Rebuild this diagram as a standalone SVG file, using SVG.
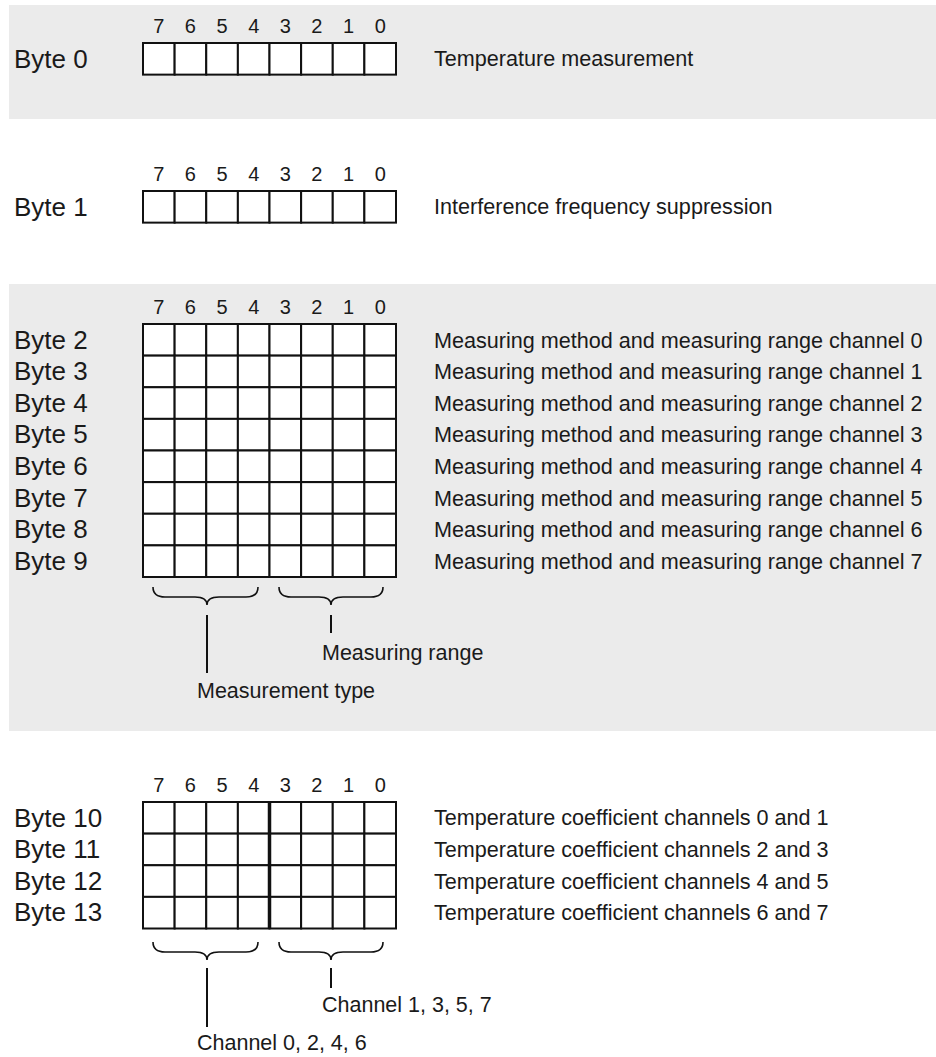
<svg xmlns="http://www.w3.org/2000/svg" width="936" height="1057" viewBox="0 0 936 1057">
<style>
.bg{fill:#ebebeb}
.cell{fill:#ffffff;stroke:#111;stroke-width:2}
.lbl{font-family:"Liberation Sans",Arial,sans-serif;font-size:26px;fill:#1a1a1a}
.txt{font-family:"Liberation Sans",Arial,sans-serif;font-size:21.6px;fill:#1a1a1a}
.bl{font-family:"Liberation Sans",Arial,sans-serif;font-size:21.5px;fill:#1a1a1a}
.bit{font-family:"Liberation Sans",Arial,sans-serif;font-size:20px;fill:#1a1a1a;text-anchor:middle}
.brace{fill:none;stroke:#111;stroke-width:1.6}
.lead{stroke:#111;stroke-width:2}
.thick{stroke:#111;stroke-width:3.5}
</style>
<defs>
<g id="row">
<rect class="cell" x="143" y="0" width="31.625" height="31.625"/>
<rect class="cell" x="174.625" y="0" width="31.625" height="31.625"/>
<rect class="cell" x="206.25" y="0" width="31.625" height="31.625"/>
<rect class="cell" x="237.875" y="0" width="31.625" height="31.625"/>
<rect class="cell" x="269.5" y="0" width="31.625" height="31.625"/>
<rect class="cell" x="301.125" y="0" width="31.625" height="31.625"/>
<rect class="cell" x="332.75" y="0" width="31.625" height="31.625"/>
<rect class="cell" x="364.375" y="0" width="31.625" height="31.625"/>
</g>
<g id="bits">
<text class="bit" x="158.8">7</text>
<text class="bit" x="190.4">6</text>
<text class="bit" x="222.1">5</text>
<text class="bit" x="253.7">4</text>
<text class="bit" x="285.3">3</text>
<text class="bit" x="316.9">2</text>
<text class="bit" x="348.6">1</text>
<text class="bit" x="380.2">0</text>
</g>
</defs>

<g id="backgrounds">
<rect class="bg" x="9" y="5" width="927" height="114"/>
<rect class="bg" x="9" y="284" width="927" height="447"/>
</g>

<g id="byte0">
<use href="#bits" y="32.5"/>
<use href="#row" y="43"/>
<text class="lbl" x="14" y="67.5">Byte 0</text>
<text class="txt" x="434" y="66">Temperature measurement</text>
</g>

<g id="byte1">
<use href="#bits" y="180.5"/>
<use href="#row" y="191"/>
<text class="lbl" x="14" y="215.5">Byte 1</text>
<text class="txt" x="434" y="214">Interference frequency suppression</text>
</g>

<g id="bytes2to9">
<use href="#bits" y="313.5"/>
<use href="#row" y="324"/>
<use href="#row" y="355.625"/>
<use href="#row" y="387.25"/>
<use href="#row" y="418.875"/>
<use href="#row" y="450.5"/>
<use href="#row" y="482.125"/>
<use href="#row" y="513.75"/>
<use href="#row" y="545.375"/>
<text class="lbl" x="14" y="348.5">Byte 2</text>
<text class="lbl" x="14" y="380.1">Byte 3</text>
<text class="lbl" x="14" y="411.7">Byte 4</text>
<text class="lbl" x="14" y="443.4">Byte 5</text>
<text class="lbl" x="14" y="475">Byte 6</text>
<text class="lbl" x="14" y="506.6">Byte 7</text>
<text class="lbl" x="14" y="538.3">Byte 8</text>
<text class="lbl" x="14" y="569.9">Byte 9</text>
<text class="txt" x="434" y="347.5">Measuring method and measuring range channel 0</text>
<text class="txt" x="434" y="379.1">Measuring method and measuring range channel 1</text>
<text class="txt" x="434" y="410.7">Measuring method and measuring range channel 2</text>
<text class="txt" x="434" y="442.4">Measuring method and measuring range channel 3</text>
<text class="txt" x="434" y="474">Measuring method and measuring range channel 4</text>
<text class="txt" x="434" y="505.6">Measuring method and measuring range channel 5</text>
<text class="txt" x="434" y="537.3">Measuring method and measuring range channel 6</text>
<text class="txt" x="434" y="568.9">Measuring method and measuring range channel 7</text>
</g>

<g id="bytes10to13">
<use href="#bits" y="791.5"/>
<use href="#row" y="802"/>
<use href="#row" y="833.625"/>
<use href="#row" y="865.25"/>
<use href="#row" y="896.875"/>
<line class="thick" x1="269.5" y1="802" x2="269.5" y2="928.5"/>
<text class="lbl" x="14" y="826.5">Byte 10</text>
<text class="lbl" x="14" y="858.1">Byte 11</text>
<text class="lbl" x="14" y="889.7">Byte 12</text>
<text class="lbl" x="14" y="921.4">Byte 13</text>
<text class="txt" x="434" y="825.3">Temperature coefficient channels 0 and 1</text>
<text class="txt" x="434" y="856.9">Temperature coefficient channels 2 and 3</text>
<text class="txt" x="434" y="888.5">Temperature coefficient channels 4 and 5</text>
<text class="txt" x="434" y="920.2">Temperature coefficient channels 6 and 7</text>
</g>

<g id="connectors">
<path class="brace" d="M153,587 Q153,597 165,597 L195,597 Q207,597 207,605 Q207,597 219,597 L246,597 Q258,597 258,587"/>
<path class="brace" d="M279,587 Q279,597 291,597 L319,597 Q331,597 331,605 Q331,597 343,597 L371,597 Q383,597 383,587"/>
<line class="lead" x1="207" y1="615" x2="207" y2="673"/>
<line class="lead" x1="331" y1="615" x2="331" y2="633"/>
<path class="brace" d="M153,942 Q153,952 165,952 L195,952 Q207,952 207,960 Q207,952 219,952 L246,952 Q258,952 258,942"/>
<path class="brace" d="M279,942 Q279,952 291,952 L319,952 Q331,952 331,960 Q331,952 343,952 L371,952 Q383,952 383,942"/>
<line class="lead" x1="207" y1="968" x2="207" y2="1027"/>
<line class="lead" x1="331" y1="968" x2="331" y2="988"/>
</g>

<g id="brace-labels">
<text class="bl" x="322" y="660">Measuring range</text>
<text class="bl" x="197" y="698">Measurement type</text>
<text class="bl" x="322" y="1012">Channel 1, 3, 5, 7</text>
<text class="bl" x="197" y="1050">Channel 0, 2, 4, 6</text>
</g>
</svg>
